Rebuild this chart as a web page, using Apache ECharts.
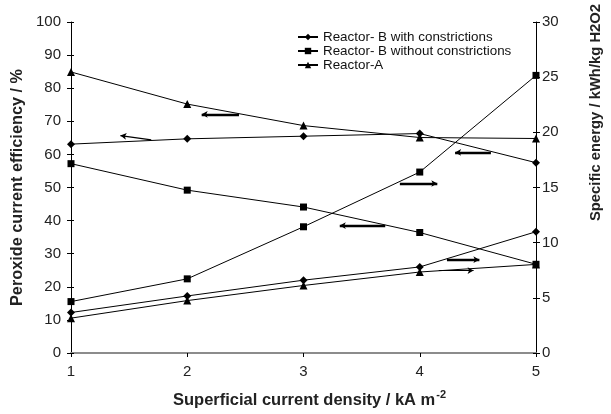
<!DOCTYPE html>
<html>
<head>
<meta charset="utf-8">
<script src="https://cdn.jsdelivr.net/npm/echarts@6/dist/echarts.min.js"></script>
<style>
html,body{margin:0;padding:0;background:#fff;}
#chart{width:611px;height:414px;}
</style>
</head>
<body>
<div id="chart"></div>
<script>
// ---- data ----
const xValues = [1, 2, 3, 4, 5];
const seriesNames = ['Reactor- B with constrictions', 'Reactor- B without constrictions', 'Reactor-A'];
// Peroxide current efficiency (%) - left axis
const effWith = [63.1, 64.7, 65.5, 66.3, 57.5];
const effWithout = [57.2, 49.2, 44.1, 36.4, 26.8];
const effA = [84.9, 75.2, 68.7, 65.1, 64.8];
// Specific energy (kWh/kg H2O2) - right axis
const energyWith = [3.67, 5.17, 6.6, 7.8, 10.99];
const energyWithout = [4.66, 6.72, 11.44, 16.4, 25.16];
const energyA = [3.16, 4.75, 6.12, 7.34, 8.03];
// axis ticks
const leftTicks = {min: 0, max: 100, interval: 10};
const rightTicks = {min: 0, max: 30, interval: 5};
const xTicks = {min: 1, max: 5, interval: 1};
// annotation arrows in data units of the left axis
const arrowStartX = [2.124, 1.425, 4.304, 3.829, 3.312, 4.234, 4.164];
const arrowStartY = [72.1, 65.7, 60.6, 51.2, 38.5, 28.2, 24.9];
const arrowEndX   = [2.445, 1.690, 4.612, 4.151, 3.703, 4.513, 4.463];
const arrowEndY   = [72.1, 64.4, 60.6, 51.2, 38.5, 28.2, 24.9];
const arrowHead   = ['start', 'start', 'start', 'end', 'start', 'end', 'end'];
const arrowThin   = [false, true, false, false, false, false, true];

// ---- chart ----
const FONT = '"Liberation Sans", Arial, Helvetica, sans-serif';
const chart = echarts.init(document.getElementById('chart'), null, {renderer: 'canvas'});

function pairs(ys) { return xValues.map((x, i) => [x, ys[i]]); }

const symbols = ['diamond', 'rect', 'triangle'];
const symbolSizes = [8, 7, 8];

function lineSeries(idx, ys, yAxisIndex) {
  return {
    name: seriesNames[idx],
    type: 'line',
    yAxisIndex: yAxisIndex,
    data: pairs(ys),
    symbol: symbols[idx],
    symbolSize: symbolSizes[idx],
    showSymbol: true,
    lineStyle: {color: '#000', width: 1},
    itemStyle: {color: '#000'},
    z: 3
  };
}

const arrowData = arrowStartX.map((x1, i) => {
  const w = arrowThin[i] ? 1.2 : 2.4;
  const startHead = arrowHead[i] === 'start';
  return [
    {coord: [x1, arrowStartY[i]], symbol: startHead ? 'arrow' : 'none', symbolSize: [5, 6], lineStyle: {width: w, color: '#000', type: 'solid'}},
    {coord: [arrowEndX[i], arrowEndY[i]], symbol: startHead ? 'none' : 'arrow', symbolSize: [5, 6]}
  ];
});

const series = [
  lineSeries(0, effWith, 0),
  lineSeries(1, effWithout, 0),
  lineSeries(2, effA, 0),
  lineSeries(0, energyWith, 1),
  lineSeries(1, energyWithout, 1),
  lineSeries(2, energyA, 1)
];
series[2].markLine = {
  silent: true,
  animation: false,
  label: {show: false},
  emphasis: {disabled: true},
  symbol: ['none', 'none'],
  data: arrowData
};

const tickLabel = {fontSize: 15, color: '#222', fontFamily: FONT};
const titleBase = {fontWeight: 'bold', color: '#222', fontFamily: FONT};

const option = {
  animation: false,
  backgroundColor: '#fff',
  grid: {left: 71, right: 63, top: 22, bottom: 57, containLabel: false},
  legend: {
    orient: 'vertical',
    left: 292,
    top: 25.5,
    itemWidth: 20,
    itemHeight: 8,
    itemGap: 1,
    data: seriesNames,
    selectedMode: false,
    textStyle: {fontSize: 13.4, color: '#111', fontFamily: FONT}
  },
  xAxis: [
    {
      type: 'value', min: xTicks.min, max: xTicks.max, interval: xTicks.interval,
      position: 'bottom',
      axisLine: {show: true, lineStyle: {color: '#000', width: 1}},
      axisTick: {show: true, length: 4, lineStyle: {color: '#000'}},
      splitLine: {show: false},
      axisLabel: Object.assign({margin: 11}, tickLabel),
      name: '{t|Superficial current density / kA m}{s|-2}',
      nameLocation: 'middle',
      nameGap: 36,
      nameTextStyle: {
        padding: [0, 0, 0, 12],
        rich: {
          t: Object.assign({fontSize: 16.5, verticalAlign: 'bottom'}, titleBase),
          s: Object.assign({fontSize: 11, verticalAlign: 'top', padding: [0, 0, 9, 1]}, titleBase)
        }
      }
    },
    {
      type: 'value', min: xTicks.min, max: xTicks.max, position: 'top',
      axisLine: {show: true, lineStyle: {color: '#8c8c8c', width: 2}},
      axisTick: {show: false}, axisLabel: {show: false}, splitLine: {show: false}
    }
  ],
  yAxis: [
    {
      type: 'value', min: leftTicks.min, max: leftTicks.max, interval: leftTicks.interval,
      position: 'left',
      axisLine: {show: true, lineStyle: {color: '#000', width: 1}},
      axisTick: {show: true, length: 4, lineStyle: {color: '#000'}},
      splitLine: {show: false},
      axisLabel: Object.assign({margin: 10}, tickLabel),
      name: 'Peroxide current efficiency / %',
      nameLocation: 'middle',
      nameGap: 29,
      nameTextStyle: Object.assign({fontSize: 16.3}, titleBase)
    },
    {
      type: 'value', min: rightTicks.min, max: rightTicks.max, interval: rightTicks.interval,
      position: 'right',
      axisLine: {show: true, lineStyle: {color: '#000', width: 1}},
      axisTick: {show: true, length: 4, lineStyle: {color: '#000'}},
      splitLine: {show: false},
      axisLabel: Object.assign({margin: 6}, tickLabel),
      name: 'Specific energy / kWh/kg H2O2',
      nameLocation: 'middle',
      nameRotate: 90,
      nameGap: 52,
      nameTextStyle: Object.assign({fontSize: 14.8, padding: [0, 0, 0, 150]}, titleBase)
    },
    {
      type: 'value', min: leftTicks.min, max: leftTicks.max, interval: leftTicks.interval,
      position: 'left',
      axisLine: {show: false},
      axisTick: {show: true, inside: true, length: 3, lineStyle: {color: '#000'}},
      axisLabel: {show: false}, splitLine: {show: false}
    },
    {
      type: 'value', min: rightTicks.min, max: rightTicks.max, interval: rightTicks.interval,
      position: 'right',
      axisLine: {show: false},
      axisTick: {show: true, inside: true, length: 3, lineStyle: {color: '#000'}},
      axisLabel: {show: false}, splitLine: {show: false}
    }
  ],
  series: series
};
chart.setOption(option);
</script>
</body>
</html>
